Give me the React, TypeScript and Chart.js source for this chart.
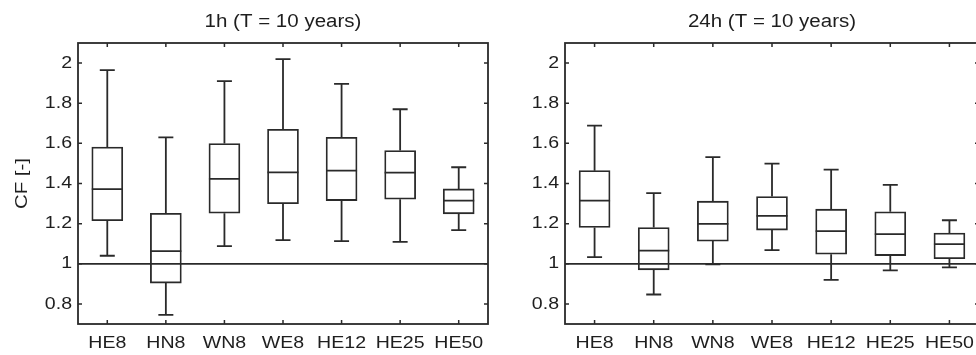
import React, { useEffect, useRef } from "react";
import { Chart, registerables } from "chart.js";

Chart.register(...registerables);

// Model configurations on the x axis
const CATEGORIES = ["HE8", "HN8", "WN8", "WE8", "HE12", "HE25", "HE50"];

// Y axis ticks
const Y_TICKS = [0.8, 1, 1.2, 1.4, 1.6, 1.8, 2];
const Y_MIN = 0.7;
const Y_MAX = 2.1;
const REFERENCE_CF = 1;

// 1h duration, T = 10 years: whisker ends, quartiles and medians
const LOW_1H = [1.04, 0.745, 1.088, 1.118, 1.113, 1.109, 1.168];
const Q1_1H = [1.215, 0.904, 1.252, 1.299, 1.315, 1.322, 1.249];
const MED_1H = [1.372, 1.063, 1.423, 1.455, 1.464, 1.454, 1.315];
const Q3_1H = [1.582, 1.252, 1.599, 1.67, 1.63, 1.564, 1.373];
const HIGH_1H = [1.965, 1.63, 1.91, 2.02, 1.896, 1.77, 1.481];

// 24h duration, T = 10 years
const LOW_24H = [1.033, 0.847, 0.997, 1.068, 0.92, 0.967, 0.982];
const Q1_24H = [1.181, 0.97, 1.113, 1.168, 1.048, 1.041, 1.025];
const MED_24H = [1.315, 1.066, 1.199, 1.239, 1.163, 1.148, 1.098];
const Q3_24H = [1.464, 1.181, 1.312, 1.335, 1.272, 1.259, 1.153];
const HIGH_24H = [1.688, 1.352, 1.531, 1.499, 1.469, 1.393, 1.217];

const TITLE_1H = "1h (T = 10 years)";
const TITLE_24H = "24h (T = 10 years)";
const Y_TITLE = "CF [-]";

const FONT_FAMILY = "'Liberation Sans', Arial, Helvetica, sans-serif";
const INK = "#1e1e1e";
const LINE = "#2a2a2a";
const TEXT_STRETCH = 1.15;

type PanelProps = {
  title: string;
  low: number[];
  q1: number[];
  med: number[];
  q3: number[];
  high: number[];
  left: number;
  width: number;
  plotLeft: number;
  plotRight: number;
};

const HEIGHT = 355;
const PLOT_TOP = 43;
const PLOT_BOTTOM = 324;

function drawStretched(
  ctx: CanvasRenderingContext2D,
  text: string,
  x: number,
  y: number,
  sx: number
) {
  ctx.save();
  ctx.translate(x, y);
  ctx.scale(sx, 1);
  CanvasRenderingContext2D.prototype.fillText.call(ctx, text, 0, 0);
  ctx.restore();
}

function makeBoxPlugin(p: PanelProps) {
  return {
    id: "boxWhiskers",
    beforeDraw(chart: any) {
      const ctx = chart.ctx as any;
      // wide glyph rendering for the axis labels
      ctx.fillText = function (t: string, x: number, y: number) {
        drawStretched(this, t, x, y, TEXT_STRETCH);
      };
    },
    afterDatasetsDraw(chart: any) {
      const ctx: CanvasRenderingContext2D = chart.ctx;
      const xs = chart.scales.x;
      const ys = chart.scales.y;
      const meta = chart.getDatasetMeta(0);
      const area = chart.chartArea;
      ctx.save();
      ctx.strokeStyle = LINE;
      ctx.lineWidth = 1.8;
      const capHalf = 7.5;
      CATEGORIES.forEach((_, i) => {
        const x = xs.getPixelForValue(i);
        const half = meta.data[i].width / 2;
        const yLow = ys.getPixelForValue(p.low[i]);
        const yQ1 = ys.getPixelForValue(p.q1[i]);
        const yMed = ys.getPixelForValue(p.med[i]);
        const yQ3 = ys.getPixelForValue(p.q3[i]);
        const yHigh = ys.getPixelForValue(p.high[i]);
        ctx.beginPath();
        // upper whisker and cap
        ctx.moveTo(x, yQ3);
        ctx.lineTo(x, yHigh);
        ctx.moveTo(x - capHalf, yHigh);
        ctx.lineTo(x + capHalf, yHigh);
        // lower whisker and cap
        ctx.moveTo(x, yQ1);
        ctx.lineTo(x, yLow);
        ctx.moveTo(x - capHalf, yLow);
        ctx.lineTo(x + capHalf, yLow);
        // median
        ctx.moveTo(x - half, yMed);
        ctx.lineTo(x + half, yMed);
        ctx.stroke();
      });
      // reference line CF = 1
      const yRef = ys.getPixelForValue(REFERENCE_CF);
      ctx.lineWidth = 1.7;
      ctx.beginPath();
      ctx.moveTo(area.left, yRef);
      ctx.lineTo(area.right, yRef);
      ctx.stroke();
      ctx.restore();
    },
    afterDraw(chart: any) {
      const ctx: any = chart.ctx;
      delete ctx.fillText;
      const xs = chart.scales.x;
      const ys = chart.scales.y;
      const area = chart.chartArea;
      ctx.save();
      ctx.strokeStyle = LINE;
      ctx.lineWidth = 1.8;
      ctx.strokeRect(area.left, area.top, area.right - area.left, area.bottom - area.top);
      // inward tick marks on all four sides
      const tl = 4;
      ctx.lineWidth = 1.5;
      ctx.beginPath();
      ys.ticks.forEach((t: any) => {
        const y = ys.getPixelForValue(t.value);
        ctx.moveTo(area.left, y);
        ctx.lineTo(area.left + tl, y);
        ctx.moveTo(area.right, y);
        ctx.lineTo(area.right - tl, y);
      });
      CATEGORIES.forEach((_, i) => {
        const x = xs.getPixelForValue(i);
        ctx.moveTo(x, area.top);
        ctx.lineTo(x, area.top + tl);
        ctx.moveTo(x, area.bottom);
        ctx.lineTo(x, area.bottom - tl);
      });
      ctx.stroke();

      // panel title
      ctx.fillStyle = INK;
      ctx.font = `18px ${FONT_FAMILY}`;
      ctx.textAlign = "center";
      ctx.textBaseline = "middle";
      drawStretched(ctx, p.title, (area.left + area.right) / 2, 22, 1.14);

      // y axis title
      ctx.font = `17px ${FONT_FAMILY}`;
      ctx.translate(area.left - 56, (area.top + area.bottom) / 2);
      ctx.rotate(-Math.PI / 2);
      drawStretched(ctx, Y_TITLE, 0, 0, 1.2);
      ctx.restore();
    },
  };
}

function Panel(p: PanelProps) {
  const ref = useRef<HTMLCanvasElement | null>(null);

  useEffect(() => {
    const canvas = ref.current;
    if (!canvas) return;
    const boxes = p.q1.map((v, i) => [v, p.q3[i]]);
    const chart = new Chart(canvas, {
      type: "bar",
      data: {
        labels: CATEGORIES,
        datasets: [
          {
            data: boxes as any,
            backgroundColor: "#ffffff",
            borderColor: LINE,
            borderWidth: 1.8,
            borderSkipped: false,
            barThickness: 31,
          },
        ],
      },
      options: {
        responsive: false,
        animation: false,
        devicePixelRatio: 1,
        layout: {
          padding: { top: PLOT_TOP, right: p.width - p.plotRight, bottom: 0, left: 0 },
        },
        plugins: {
          legend: { display: false },
          tooltip: { enabled: false },
          title: { display: false },
        },
        scales: {
          x: {
            type: "category",
            offset: true,
            grid: { display: false, drawTicks: false },
            border: { display: false },
            ticks: {
              color: INK,
              padding: 9,
              maxRotation: 0,
              autoSkip: false,
              font: { family: FONT_FAMILY, size: 17 },
            },
            afterFit: (s: any) => {
              s.height = HEIGHT - PLOT_BOTTOM;
            },
          },
          y: {
            type: "linear",
            min: Y_MIN,
            max: Y_MAX,
            grid: { display: false, drawTicks: false },
            border: { display: false },
            ticks: {
              color: INK,
              padding: 6,
              font: { family: FONT_FAMILY, size: 17 },
              callback: (v: any) => String(Number(Number(v).toFixed(1))),
            },
            afterBuildTicks: (s: any) => {
              s.ticks = Y_TICKS.map((v) => ({ value: v }));
            },
            afterFit: (s: any) => {
              s.width = p.plotLeft;
            },
          },
        },
      },
      plugins: [makeBoxPlugin(p)],
    } as any);
    return () => chart.destroy();
  }, []);

  return (
    <canvas
      ref={ref}
      width={p.width}
      height={HEIGHT}
      style={{
        position: "absolute",
        left: p.left,
        top: 0,
        width: p.width,
        height: HEIGHT,
      }}
    />
  );
}

export default function App() {
  return (
    <div
      style={{
        position: "fixed",
        left: 0,
        top: 0,
        width: 976,
        height: HEIGHT,
        overflow: "hidden",
        background: "#ffffff",
      }}
    >
      <Panel
        title={TITLE_1H}
        low={LOW_1H}
        q1={Q1_1H}
        med={MED_1H}
        q3={Q3_1H}
        high={HIGH_1H}
        left={0}
        width={520}
        plotLeft={78}
        plotRight={488}
      />
      <Panel
        title={TITLE_24H}
        low={LOW_24H}
        q1={Q1_24H}
        med={MED_24H}
        q3={Q3_24H}
        high={HIGH_24H}
        left={520}
        width={480}
        plotLeft={45}
        plotRight={459}
      />
    </div>
  );
}
